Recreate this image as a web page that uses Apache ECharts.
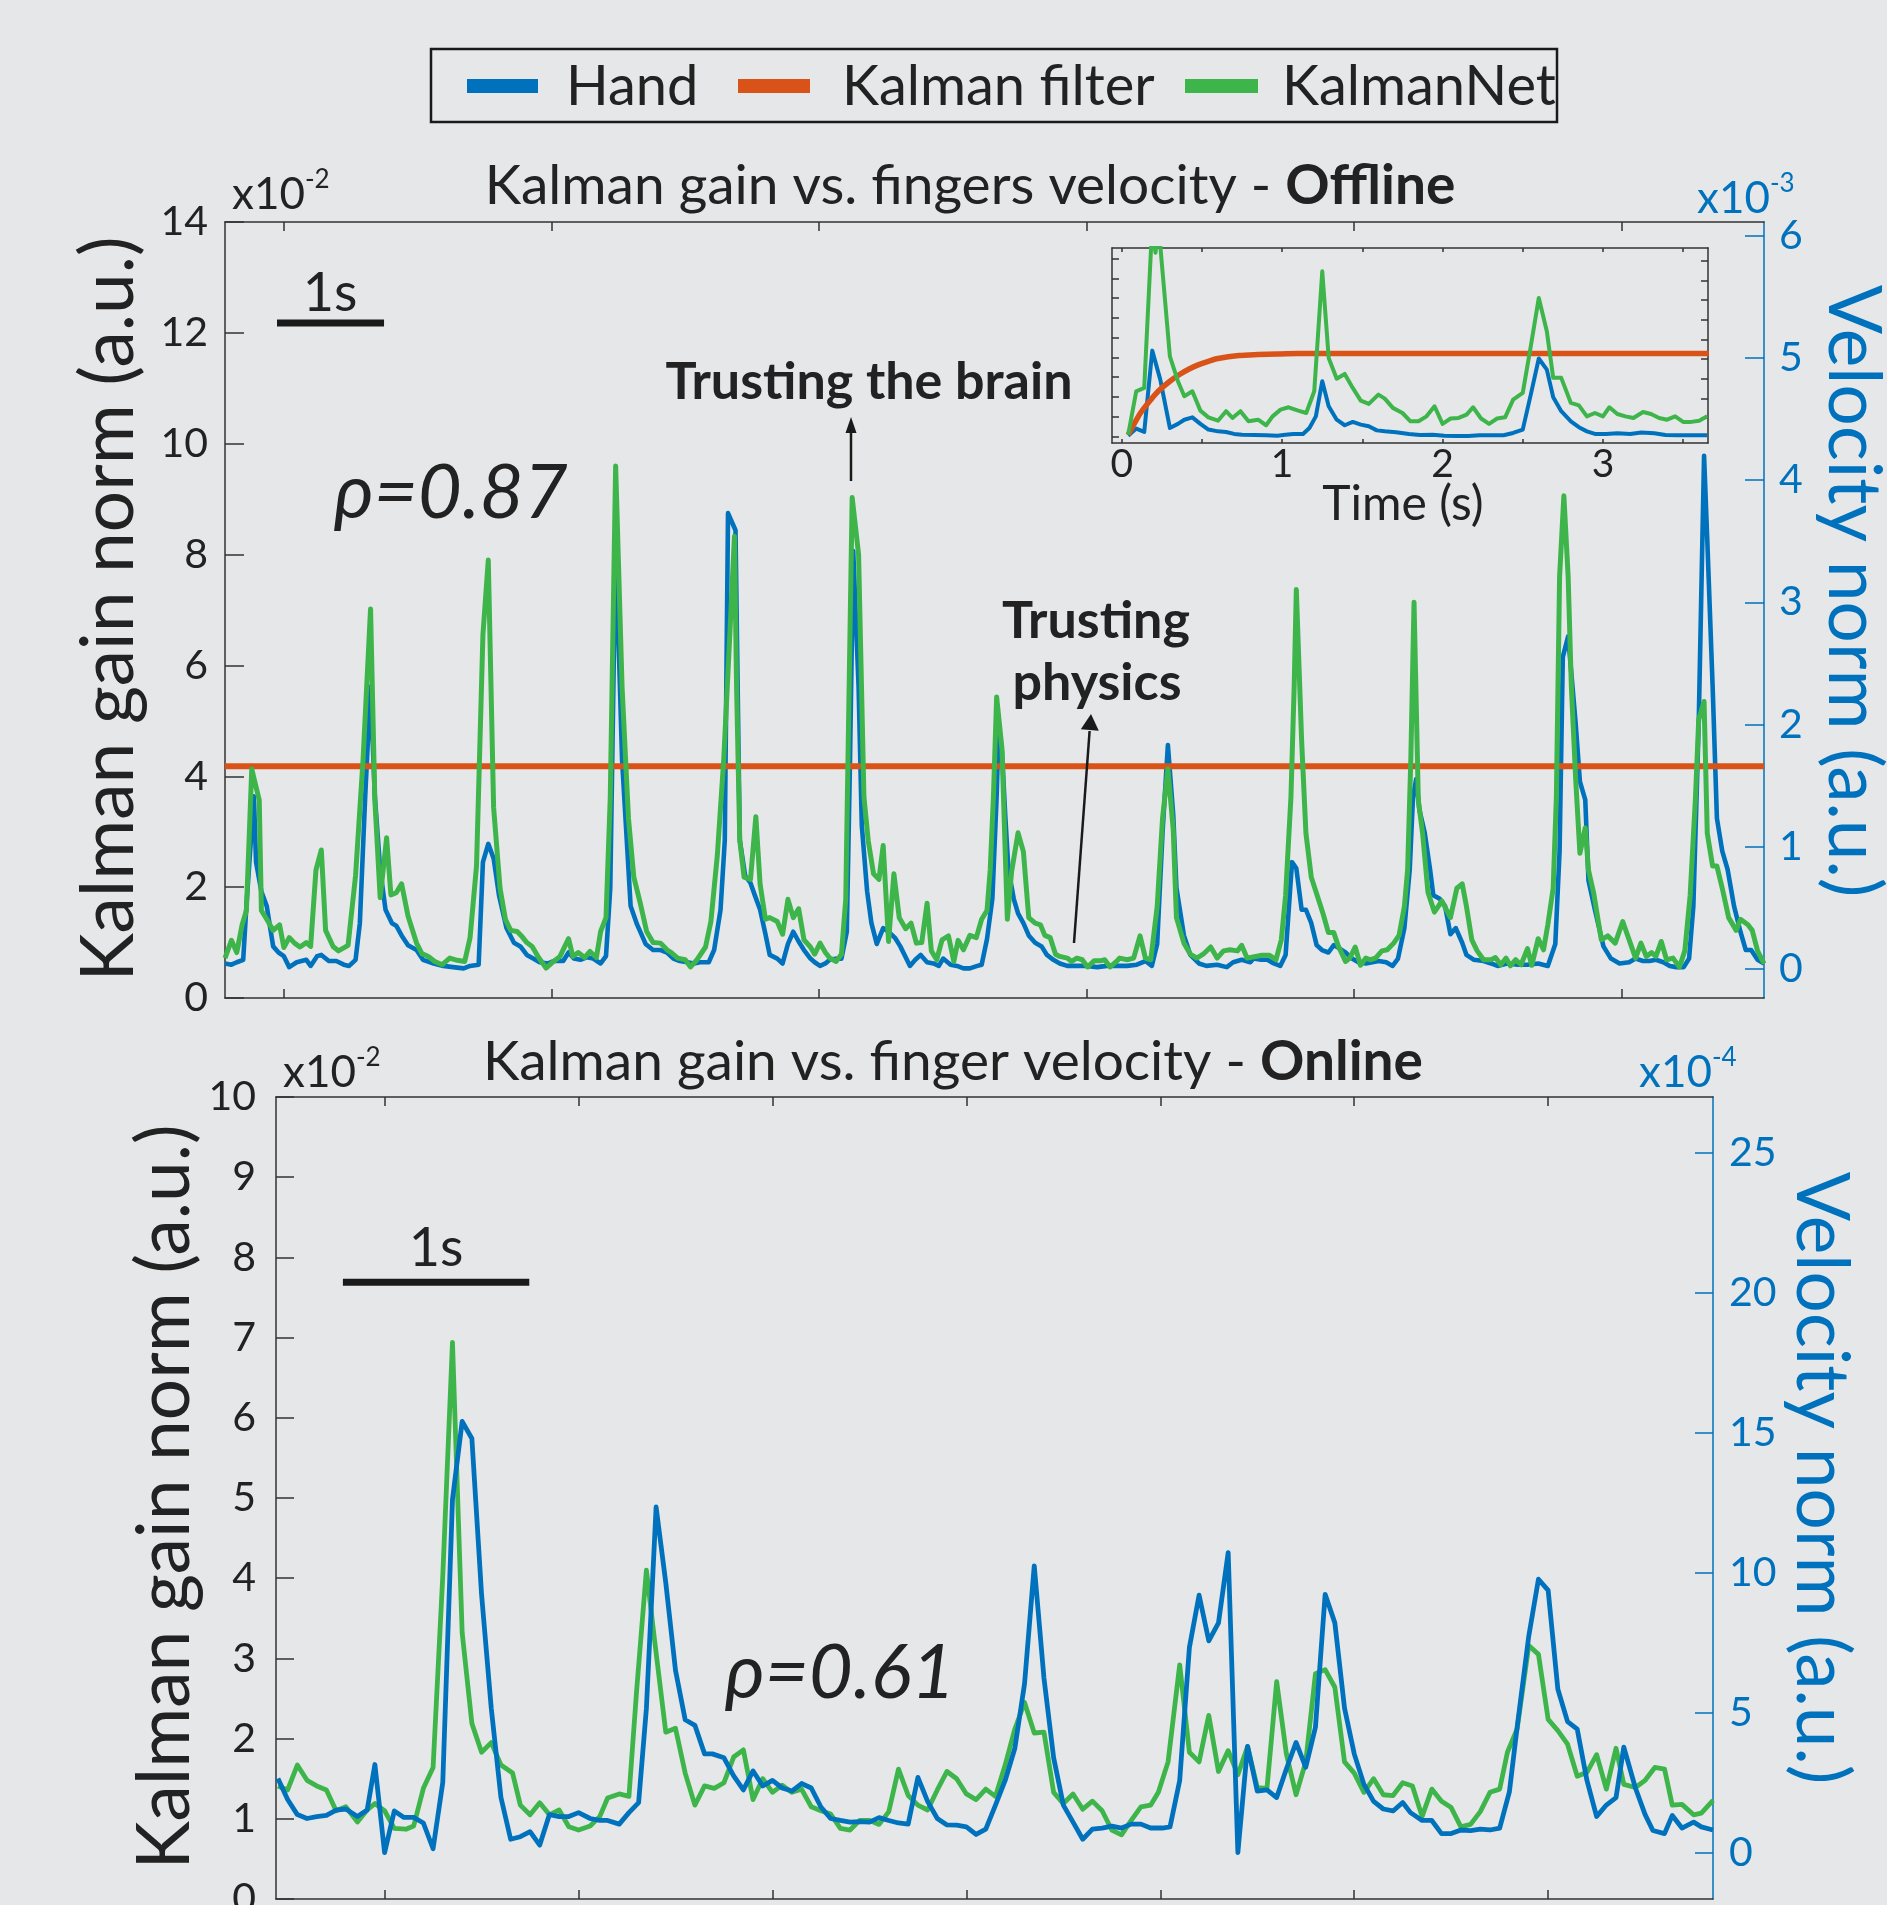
<!DOCTYPE html>
<html>
<head>
<meta charset="utf-8">
<title>Kalman gain vs. finger velocity</title>
<script src="https://cdn.jsdelivr.net/npm/echarts@6/dist/echarts.min.js"></script>
<style>
  html, body { margin: 0; padding: 0; background: #e6e7e8; }
  #chart { width: 1887px; height: 1905px; }
</style>
</head>
<body>
<div id="chart"></div>
<script>
// ---- offline panel (time in s, gain x1e-2, hand velocity x1e-3) ----
const offlineNetT = [0,0.06,0.11,0.16,0.2,0.25,0.32,0.34,0.39,0.45,0.51,0.55,0.6,0.65,0.7,0.76,0.8,0.85,0.9,0.94,1.01,1.06,1.15,1.22,1.29,1.36,1.4,1.45,1.51,1.55,1.6,1.65,1.71,1.79,1.84,1.9,1.96,2.03,2.1,2.17,2.24,2.29,2.35,2.41,2.46,2.51,2.57,2.62,2.67,2.73,2.77,2.82,2.87,2.93,3,3.07,3.13,3.21,3.25,3.3,3.36,3.41,3.47,3.51,3.56,3.6,3.65,3.71,3.77,3.82,3.88,3.94,4,4.07,4.13,4.17,4.23,4.3,4.35,4.41,4.49,4.54,4.6,4.66,4.72,4.76,4.78,4.81,4.85,4.91,4.96,5,5.05,5.09,5.16,5.21,5.26,5.31,5.36,5.41,5.47,5.51,5.56,5.61,5.65,5.71,5.76,5.8,5.86,5.92,5.97,6.01,6.06,6.11,6.15,6.2,6.25,6.3,6.36,6.41,6.46,6.51,6.56,6.6,6.65,6.7,6.76,6.81,6.85,6.9,6.96,7.02,7.07,7.12,7.15,7.18,7.21,7.26,7.31,7.35,7.41,7.46,7.51,7.57,7.62,7.66,7.71,7.76,7.8,7.87,7.91,7.96,8.01,8.06,8.12,8.18,8.22,8.27,8.33,8.36,8.43,8.49,8.55,8.6,8.65,8.71,8.76,8.81,8.86,8.89,8.96,9.02,9.08,9.14,9.21,9.27,9.33,9.39,9.46,9.5,9.55,9.63,9.69,9.76,9.82,9.87,9.91,9.96,9.99,10.01,10.06,10.1,10.15,10.2,10.26,10.31,10.36,10.4,10.47,10.51,10.56,10.61,10.66,10.7,10.75,10.81,10.86,10.92,10.97,11.02,11.05,11.08,11.11,11.15,11.19,11.24,11.3,11.37,11.45,11.51,11.56,11.6,11.65,11.7,11.76,11.83,11.87,11.92,11.97,12.01,12.06,12.11,12.17,12.21,12.27,12.32,12.36,12.41,12.44,12.47,12.51,12.55,12.58,12.62,12.66,12.71,12.74,12.79,12.86,12.92,12.99,13.06,13.12,13.18,13.23,13.28,13.33,13.37,13.42,13.47,13.53,13.59,13.64,13.69,13.74,13.77,13.82,13.85,13.9,13.94,13.99,14.05,14.12,14.16,14.23,14.27,14.32,14.38];
const offlineNetV = [0.72,1.04,0.82,1.32,1.58,4.13,3.57,1.58,1.42,1.22,1.32,0.91,1.09,0.99,0.92,1,0.93,2.31,2.67,1.22,0.93,0.85,0.95,2.21,4.3,7.02,3.57,1.81,2.89,1.86,1.9,2.06,1.48,0.99,0.8,0.75,0.66,0.6,0.72,0.68,0.66,1.09,2.38,6.55,7.9,3.43,1.98,1.42,1.22,1.2,1.12,1,0.93,0.73,0.54,0.66,0.75,1.07,0.75,0.82,0.73,0.84,0.73,1.2,1.45,3.63,9.6,5.62,3.24,2.18,1.71,1.2,1,0.99,0.87,0.82,0.72,0.69,0.56,0.69,0.92,1.38,2.57,4.3,6.68,8.33,5.62,2.84,2.18,2.14,3.27,2.05,1.42,1.45,1.38,1.15,1.78,1.45,1.61,1.05,0.92,0.79,0.99,0.82,0.72,0.66,0.79,1.78,9.03,8,3.63,2.84,2.24,2.14,2.75,1.02,2.24,1.45,1.25,1.35,0.99,1,1.71,0.85,0.69,1.05,1.12,0.66,1.04,0.87,1.13,1.09,1.42,1.58,2.31,3.63,5.43,4.49,1.42,2.28,2.98,2.64,1.45,1.35,1.32,1.13,1.09,0.79,0.75,0.72,0.66,0.72,0.69,0.56,0.67,0.67,0.69,0.56,0.66,0.72,0.69,0.72,1.12,0.72,0.69,1.65,3.24,4.13,3.04,1.45,0.99,0.79,0.72,0.79,0.92,0.72,0.85,0.87,0.85,0.95,0.72,0.75,0.77,0.77,0.69,1.05,1.85,3.63,5.62,7.37,4.63,2.97,2.18,1.88,1.52,1.18,1.18,0.95,0.66,0.72,0.92,0.59,0.72,0.69,0.72,0.85,0.87,0.99,1.13,1.65,2.31,4.3,7.14,3.57,2.97,1.91,1.55,1.75,1.45,1.98,2.06,1.65,1.05,0.85,0.69,0.69,0.73,0.6,0.72,0.58,0.69,0.6,0.89,0.59,1.07,0.87,1.32,1.98,3.63,7.6,9.06,7.6,5.62,3.96,2.61,3.07,2.31,1.88,1.05,1.12,0.99,1.38,1.05,0.72,0.99,0.75,0.82,0.75,1.02,0.69,0.72,0.56,0.85,1.85,3.63,5.02,5.35,2.97,2.38,2.38,1.98,1.45,1.22,1.42,1.32,1.22,0.85,0.62];
const offlineHandT = [0,0.06,0.11,0.17,0.2,0.27,0.29,0.34,0.39,0.45,0.5,0.55,0.6,0.67,0.76,0.8,0.86,0.9,0.97,1.04,1.11,1.16,1.22,1.26,1.31,1.36,1.4,1.45,1.5,1.56,1.6,1.65,1.71,1.79,1.85,1.95,2.04,2.13,2.23,2.29,2.37,2.41,2.46,2.51,2.56,2.63,2.7,2.76,2.82,2.88,2.94,3.02,3.07,3.16,3.21,3.26,3.32,3.38,3.44,3.51,3.56,3.6,3.65,3.71,3.79,3.85,3.93,4,4.07,4.13,4.19,4.25,4.32,4.38,4.44,4.52,4.57,4.63,4.67,4.7,4.77,4.79,4.81,4.86,4.91,4.95,5,5.05,5.09,5.16,5.21,5.26,5.31,5.36,5.41,5.47,5.51,5.56,5.61,5.65,5.72,5.76,5.81,5.84,5.87,5.92,5.95,6,6.04,6.09,6.15,6.2,6.26,6.31,6.36,6.4,6.45,6.5,6.56,6.62,6.67,6.71,6.78,6.84,6.9,6.96,7.03,7.07,7.12,7.17,7.21,7.23,7.26,7.29,7.32,7.37,7.41,7.46,7.51,7.57,7.63,7.68,7.74,7.8,7.87,7.96,8.05,8.15,8.24,8.33,8.43,8.52,8.6,8.66,8.71,8.76,8.81,8.86,8.89,8.96,9.02,9.1,9.17,9.27,9.36,9.42,9.5,9.58,9.61,9.68,9.74,9.8,9.86,9.91,9.97,10.01,10.06,10.1,10.15,10.2,10.25,10.31,10.36,10.4,10.47,10.53,10.59,10.66,10.72,10.78,10.85,10.91,10.96,11.02,11.07,11.1,11.13,11.16,11.21,11.26,11.29,11.35,11.4,11.45,11.5,11.56,11.6,11.67,11.76,11.83,11.89,11.98,12.08,12.17,12.27,12.36,12.43,12.47,12.5,12.55,12.62,12.66,12.71,12.74,12.8,12.88,12.95,13.03,13.12,13.18,13.25,13.31,13.37,13.44,13.5,13.56,13.63,13.68,13.72,13.77,13.82,13.85,13.9,13.94,13.99,14.04,14.1,14.16,14.21,14.26,14.32,14.38];
const offlineHandV = [0.04,0.03,0.05,0.07,0.51,1.41,0.87,0.63,0.51,0.18,0.13,0.1,0.01,0.05,0.07,0.02,0.1,0.11,0.06,0.06,0.03,0.02,0.07,0.37,1.41,2.31,1.41,0.81,0.48,0.37,0.35,0.27,0.19,0.15,0.07,0.04,0.02,0.01,0,0.02,0.03,0.87,1.02,0.9,0.6,0.33,0.21,0.18,0.11,0.08,0.05,0.04,0.06,0.06,0.13,0.08,0.07,0.09,0.08,0.04,0.1,0.66,3.51,1.71,0.51,0.36,0.2,0.15,0.15,0.13,0.08,0.06,0.05,0.04,0.05,0.05,0.15,0.48,1.05,3.73,3.59,2.31,1.05,0.76,0.7,0.6,0.48,0.28,0.11,0.08,0.04,0.2,0.3,0.22,0.15,0.08,0.05,0.02,0.04,0.07,0.08,0.08,0.3,1.71,3.42,2.31,1.17,0.63,0.37,0.2,0.33,0.3,0.25,0.18,0.09,0.02,0.07,0.11,0.05,0.04,0.02,0.08,0.03,0.02,0,0,0.02,0.03,0.24,0.57,1.41,2.01,1.77,1.26,0.81,0.57,0.45,0.37,0.27,0.21,0.18,0.11,0.07,0.04,0.02,0.02,0.02,0.01,0.02,0.02,0.02,0.03,0.06,0.02,0.2,1.11,1.83,1.26,0.66,0.27,0.11,0.04,0.02,0.03,0.01,0.05,0.07,0.05,0.08,0.07,0.07,0.04,0.02,0.11,0.87,0.82,0.48,0.48,0.37,0.19,0.15,0.13,0.19,0.17,0.13,0.08,0.05,0.04,0.05,0.06,0.05,0.02,0.08,0.33,0.81,1.4,1.55,1.3,1.11,0.81,0.6,0.57,0.51,0.28,0.33,0.21,0.11,0.07,0.06,0.04,0.02,0.04,0.03,0.03,0.04,0.02,0.2,0.96,2.55,2.72,2.01,1.53,1.38,0.72,0.48,0.18,0.08,0.04,0.05,0.08,0.06,0.06,0.07,0.05,0.02,0.01,0.01,0.08,0.51,2.01,4.2,3.51,2.31,1.23,0.96,0.81,0.51,0.3,0.15,0.15,0.07,0.04];
const offlineKfT = [0, 14.38];
const offlineKfV = [4.18, 4.18];

// ---- online panel (time in s, gain x1e-2, hand velocity x1e-4) ----
const onlineNetT = [0.01,0.06,0.11,0.16,0.21,0.26,0.31,0.36,0.42,0.47,0.51,0.56,0.61,0.67,0.71,0.76,0.81,0.86,0.91,0.96,1.01,1.06,1.11,1.16,1.22,1.26,1.31,1.36,1.41,1.46,1.51,1.56,1.62,1.67,1.71,1.77,1.82,1.86,1.91,1.95,2.01,2.06,2.11,2.16,2.21,2.26,2.31,2.36,2.41,2.46,2.51,2.56,2.61,2.66,2.71,2.76,2.81,2.86,2.91,2.96,3.01,3.06,3.11,3.16,3.21,3.26,3.31,3.36,3.41,3.46,3.51,3.56,3.61,3.66,3.71,3.76,3.81,3.86,3.91,3.96,4.01,4.06,4.11,4.16,4.21,4.26,4.31,4.36,4.41,4.46,4.51,4.55,4.6,4.66,4.71,4.76,4.81,4.86,4.91,4.96,5.01,5.06,5.11,5.16,5.21,5.26,5.31,5.36,5.41,5.46,5.51,5.56,5.61,5.66,5.71,5.76,5.81,5.86,5.91,5.96,6.01,6.06,6.11,6.16,6.21,6.26,6.31,6.35,6.4,6.46,6.51,6.56,6.61,6.66,6.71,6.76,6.81,6.86,6.91,6.95,7.01,7.06,7.11,7.16,7.2,7.25,7.31,7.35,7.41];
const onlineNetV = [1.41,1.36,1.67,1.48,1.41,1.36,1.1,1.15,0.96,1.11,1.19,1.1,0.88,0.87,0.91,1.38,1.64,4.03,6.94,3.32,2.19,1.83,1.95,1.67,1.57,1.17,1.05,1.2,1.05,1.11,0.9,0.86,0.91,1.03,1.26,1.31,1.28,2.61,4.1,3.27,2.08,2.13,1.57,1.17,1.41,1.38,1.45,1.77,1.86,1.24,1.5,1.33,1.42,1.33,1.37,1.15,1.1,1.06,0.88,0.86,0.98,0.98,0.93,1.09,1.62,1.29,1.17,1.11,1.36,1.59,1.5,1.31,1.24,1.37,1.28,1.67,2.12,2.45,2.07,2.08,1.33,1.19,1.31,1.12,1.22,1.1,0.86,0.8,0.98,1.15,1.17,1.33,1.71,2.92,1.83,1.71,2.29,1.59,1.85,1.55,1.9,1.39,1.38,2.71,1.81,1.3,1.71,2.81,2.86,2.64,1.71,1.57,1.33,1.5,1.3,1.29,1.45,1.41,1.03,1.37,1.22,1.14,0.9,0.93,1.09,1.33,1.37,1.83,2.12,3.16,3.05,2.24,2.1,1.93,1.53,1.58,1.8,1.37,1.88,1.43,1.39,1.48,1.64,1.62,1.17,1.18,1.05,1.07,1.23];
const onlineHandT = [0.01,0.06,0.11,0.16,0.21,0.26,0.31,0.36,0.42,0.47,0.51,0.56,0.61,0.66,0.71,0.76,0.81,0.86,0.91,0.96,1.01,1.06,1.11,1.16,1.21,1.26,1.31,1.36,1.41,1.46,1.51,1.56,1.62,1.67,1.71,1.77,1.82,1.87,1.91,1.96,2.01,2.06,2.11,2.16,2.21,2.25,2.31,2.36,2.41,2.46,2.51,2.56,2.61,2.66,2.71,2.76,2.81,2.86,2.91,2.96,3.01,3.06,3.11,3.16,3.21,3.26,3.31,3.36,3.41,3.46,3.51,3.56,3.61,3.66,3.71,3.76,3.81,3.86,3.91,3.96,4.01,4.06,4.11,4.16,4.21,4.26,4.31,4.36,4.41,4.46,4.51,4.57,4.61,4.66,4.71,4.76,4.81,4.86,4.91,4.96,5.01,5.06,5.11,5.16,5.21,5.26,5.31,5.36,5.41,5.46,5.51,5.56,5.61,5.66,5.71,5.76,5.81,5.85,5.91,5.96,6.01,6.06,6.11,6.16,6.21,6.26,6.31,6.36,6.4,6.46,6.51,6.56,6.61,6.66,6.71,6.76,6.81,6.86,6.91,6.95,7.01,7.06,7.1,7.16,7.2,7.25,7.31,7.35,7.41];
const onlineHandV = [2.65,1.9,1.36,1.22,1.29,1.33,1.52,1.56,1.29,1.52,3.15,0,1.49,1.26,1.26,1.06,0.14,2.51,12.62,15.41,14.8,9.23,5.16,1.97,0.48,0.57,0.75,0.27,1.36,1.29,1.29,1.43,1.22,1.15,1.15,1.02,1.43,1.79,5.16,12.35,9.64,6.52,4.75,4.55,3.53,3.53,3.39,2.74,2.24,2.92,2.38,2.58,2.31,2.2,2.47,2.31,1.63,1.22,1.15,1.09,1.11,1.09,1.25,1.15,1.06,1.02,2.69,1.83,1.22,0.99,0.98,0.92,0.65,0.84,1.7,2.58,3.73,6.04,10.25,6.24,3.39,1.7,1.09,0.48,0.84,0.88,0.95,0.88,1.02,1.02,0.88,0.88,0.92,2.58,7.33,9.2,7.57,8.21,10.72,0,3.8,2.2,2.24,1.97,2.99,3.94,3.05,4.48,9.23,8.21,5.16,3.53,2.44,1.83,1.56,1.49,1.79,1.43,1.15,1.15,0.68,0.68,0.81,0.79,0.84,0.81,0.88,2.17,4.48,7.74,9.77,9.37,5.84,4.68,4.41,2.58,1.29,1.7,1.97,3.77,2.31,1.36,0.79,0.68,1.33,0.88,1.09,0.92,0.81];

// ---- inset (time in s, gain x1e-2) ----
const insetNetT = [0.04,0.09,0.14,0.19,0.21,0.23,0.3,0.35,0.39,0.44,0.49,0.54,0.6,0.65,0.69,0.74,0.79,0.85,0.9,0.94,0.99,1.04,1.1,1.15,1.2,1.25,1.29,1.34,1.39,1.44,1.49,1.54,1.6,1.64,1.69,1.75,1.8,1.85,1.9,1.95,2,2.05,2.1,2.15,2.19,2.24,2.29,2.34,2.39,2.44,2.5,2.55,2.6,2.65,2.69,2.74,2.8,2.85,2.9,2.95,3,3.04,3.09,3.14,3.19,3.25,3.3,3.35,3.4,3.45,3.5,3.55,3.6,3.65];
const insetNetV = [0.08,2.28,2.45,10.8,9.3,10.6,4.05,2.79,2.03,2.28,1.3,0.96,0.79,1.27,0.93,1.27,0.76,0.84,0.56,1.01,1.35,1.47,1.3,1.18,2.28,8.36,3.97,2.92,3.16,2.45,1.81,1.64,2.11,1.91,1.44,1.18,0.76,0.76,1.01,1.52,0.63,0.9,0.93,1.1,1.47,0.9,0.63,0.9,0.96,1.86,2.2,4.56,7.01,5.32,2.96,2.96,1.69,1.57,1.01,1.18,1.01,1.47,1.13,1.01,0.93,1.23,1.13,0.93,0.84,1.01,0.73,0.73,0.79,1.01];
const insetHandT = [0.04,0.09,0.14,0.19,0.24,0.3,0.35,0.39,0.44,0.49,0.54,0.6,0.65,0.7,0.75,0.83,0.9,0.97,1.02,1.07,1.13,1.17,1.21,1.25,1.29,1.34,1.39,1.44,1.49,1.54,1.59,1.64,1.71,1.79,1.86,1.94,2.01,2.08,2.16,2.23,2.31,2.38,2.44,2.5,2.55,2.6,2.65,2.69,2.74,2.8,2.85,2.9,2.95,3.02,3.09,3.17,3.24,3.32,3.39,3.46,3.54,3.65];
const insetHandV = [0.03,0.39,0.22,4.34,2.87,0.42,0.63,0.84,0.96,0.63,0.34,0.25,0.22,0.12,0.08,0.07,0.05,0.03,0.08,0.12,0.12,0.42,1.01,2.79,1.52,0.84,0.56,0.73,0.59,0.51,0.3,0.25,0.2,0.12,0.07,0.08,0.03,0.02,0.02,0.05,0.05,0.05,0.17,0.34,2.11,3.94,3.38,1.98,1.27,0.76,0.46,0.25,0.12,0.12,0.15,0.12,0.19,0.15,0.07,0.05,0.05,0.05];
const insetKfT = [0.04,0.11,0.14,0.19,0.23,0.3,0.36,0.42,0.48,0.54,0.6,0.73,0.85,0.97,1.1,3.66];
const insetKfV = [0.08,1.1,1.44,1.94,2.31,2.79,3.13,3.41,3.63,3.8,3.94,4.09,4.14,4.17,4.19,4.19];

// axis ticks / labels
const offlineTimeTicks = [0.55, 3.05, 5.55, 8.05, 10.55, 13.05];
const offlineVelLabels = [0, 1, 2, 3, 4, 5, 6];
const onlineTimeTicks = [0.56, 1.56, 2.56, 3.56, 4.56, 5.56, 6.56];
const onlineVelLabels = [0, 5, 10, 15, 20, 25];
const insetTimeTicks = [0, 0.5, 1, 1.5, 2, 2.5, 3, 3.5];
const insetTimeLabels = [0, 1, 2, 3];
const insetLeftTicks = [0, 1, 2, 3, 4, 5, 6, 7, 8, 9];
const insetRightTicks = [1, 2, 3, 4, 5, 6, 7, 8, 9];

const BLUE = '#0072BD', ORANGE = '#D95319', GREEN = '#3DB54A';
const DARK = '#333333', TXT = '#222222', FONT = 'Lato';

const zip = (t, v) => t.map((x, i) => [x, v[i]]);

function xAx(grid, pos, min, max, ticks, tickLen, labels) {
    return {
        type: 'value', gridIndex: grid, position: pos, min: min, max: max,
        splitLine: {show: false},
        axisLine: {show: true, onZero: false, lineStyle: {color: DARK, width: 1.5}},
        axisTick: {show: true, inside: true, length: tickLen, customValues: ticks,
            lineStyle: {color: DARK, width: 1.5}},
        axisLabel: labels ? {show: true, customValues: labels, margin: 2, color: TXT,
            fontFamily: FONT, fontSize: 39} : {show: false}
    };
}
function yAx(grid, pos, min, max, color, tickLen, opts) {
    let ax = {
        type: 'value', gridIndex: grid, position: pos, min: min, max: max,
        splitLine: {show: false},
        axisLine: {show: true, onZero: false, lineStyle: {color: color, width: 1.5}},
        axisTick: {show: true, inside: true, length: tickLen, lineStyle: {color: color, width: 1.5}},
        axisLabel: {show: false}
    };
    if (opts.interval) ax.interval = opts.interval;
    if (opts.ticks) ax.axisTick.customValues = opts.ticks;
    if (opts.labels !== undefined) {
        ax.axisLabel = {show: true, color: color === DARK ? TXT : color, fontFamily: FONT,
            fontSize: 41, margin: opts.margin, showMinLabel: true, showMaxLabel: true};
        if (opts.labels) ax.axisLabel.customValues = opts.labels;
    }
    return ax;
}
function lineSeries(name, data, x, y, color, width, extra) {
    return Object.assign({
        name: name, type: 'line', data: data, xAxisIndex: x, yAxisIndex: y,
        showSymbol: false, symbol: 'none', clip: true, silent: true,
        lineStyle: {color: color, width: width, join: 'round'}, itemStyle: {color: color}
    }, extra || {});
}
function txt(text, x, y, size, opts) {
    opts = opts || {};
    return {
        type: 'text', x: x, y: y, rotation: opts.rot || 0, z: 100,
        style: {
            text: text, fill: opts.color || TXT, fontFamily: opts.family || FONT,
            fontSize: size, fontWeight: opts.weight || 'normal', fontStyle: opts.style || 'normal',
            align: opts.align || 'center', verticalAlign: 'middle',
            textAlign: opts.align || 'center', textVerticalAlign: 'middle', rich: opts.rich
        }
    };
}
function expo(base, sup, x, y, color) {
    return txt('{a|' + base + '}{b|' + sup + '}', x, y, 44, {
        align: 'left', color: color,
        rich: {
            a: {fontFamily: FONT, fontSize: 44, fill: color, lineHeight: 50, verticalAlign: 'bottom'},
            b: {fontFamily: FONT, fontSize: 26, fill: color, lineHeight: 50, verticalAlign: 'top'}
        }
    });
}
function title(normal, bold, x, y) {
    return txt('{n|' + normal + '}{b|' + bold + '}', x, y, 55, {
        rich: {
            n: {fontFamily: FONT, fontSize: 55, fill: TXT},
            b: {fontFamily: FONT, fontSize: 55, fontWeight: 'bold', fill: TXT}
        }
    });
}

const chart = echarts.init(document.getElementById('chart'), null, {renderer: 'canvas'});

chart.setOption({
    backgroundColor: '#e6e7e8',
    animation: false,
    grid: [
        {left: 225, top: 222, width: 1539, height: 776, containLabel: false, outerBoundsMode: 'none'},
        {left: 276, top: 1097, width: 1437, height: 802, containLabel: false, outerBoundsMode: 'none'},
        {left: 1112, top: 248, width: 596, height: 195, containLabel: false, outerBoundsMode: 'none'}
    ],
    xAxis: [
        xAx(0, 'bottom', 0, 14.38, offlineTimeTicks, 9),
        xAx(0, 'top', 0, 14.38, offlineTimeTicks, 9),
        xAx(1, 'bottom', 0, 7.41, onlineTimeTicks, 9),
        xAx(1, 'top', 0, 7.41, onlineTimeTicks, 9),
        xAx(2, 'bottom', -0.061, 3.655, insetTimeTicks, 4, insetTimeLabels),
        xAx(2, 'top', -0.061, 3.655, insetTimeTicks, 4)
    ],
    yAxis: [
        yAx(0, 'left', 0, 14, DARK, 19, {interval: 2, labels: null, margin: 17}),
        yAx(0, 'right', -0.243, 6.116, BLUE, 19, {ticks: offlineVelLabels, labels: offlineVelLabels, margin: 15}),
        yAx(1, 'left', 0, 10, DARK, 18, {interval: 1, labels: null, margin: 20}),
        yAx(1, 'right', -1.656, 27.0, BLUE, 18, {ticks: onlineVelLabels, labels: onlineVelLabels, margin: 16}),
        yAx(2, 'left', -0.34, 9.54, DARK, 7, {ticks: insetLeftTicks}),
        yAx(2, 'right', -0.27, 9.66, DARK, 7, {ticks: insetRightTicks})
    ],
    series: [
        lineSeries('Hand', zip(offlineHandT, offlineHandV), 0, 1, BLUE, 4.6),
        lineSeries('Kalman filter', zip(offlineKfT, offlineKfV), 0, 0, ORANGE, 6),
        lineSeries('KalmanNet', zip(offlineNetT, offlineNetV), 0, 0, GREEN, 5),
        lineSeries('scale 1s offline', [[0.486, 12.18], [1.486, 12.18]], 0, 0, '#1a1a1a', 7, {lineStyle: {color: '#1a1a1a', width: 7, cap: 'butt'}}),
        lineSeries('KalmanNet', zip(onlineNetT, onlineNetV), 2, 2, GREEN, 4.8),
        lineSeries('Hand', zip(onlineHandT, onlineHandV), 2, 3, BLUE, 4.8),
        lineSeries('scale 1s online', [[0.345, 7.69], [1.306, 7.69]], 2, 2, '#1a1a1a', 7, {lineStyle: {color: '#1a1a1a', width: 7, cap: 'butt'}}),
        lineSeries('Hand', zip(insetHandT, insetHandV), 4, 4, BLUE, 4),
        lineSeries('Kalman filter', zip(insetKfT, insetKfV), 4, 4, ORANGE, 5.5, {smooth: 0.3}),
        lineSeries('KalmanNet', zip(insetNetT, insetNetV), 4, 4, GREEN, 4)
    ],
    graphic: [
        // legend
        {type: 'rect', z: 100, shape: {x: 431, y: 49, width: 1126, height: 73},
            style: {fill: 'none', stroke: '#1a1a1a', lineWidth: 2.5}},
        {type: 'rect', z: 100, shape: {x: 467, y: 79, width: 71, height: 14}, style: {fill: BLUE}},
        txt('Hand', 566, 87, 56, {align: 'left'}),
        {type: 'rect', z: 100, shape: {x: 738, y: 79, width: 72, height: 14}, style: {fill: ORANGE}},
        txt('Kalman filter', 842, 87, 56, {align: 'left'}),
        {type: 'rect', z: 100, shape: {x: 1185, y: 79, width: 73, height: 14}, style: {fill: GREEN}},
        txt('KalmanNet', 1282, 87, 56, {align: 'left'}),
        // titles
        title('Kalman gain vs. fingers velocity - ', 'Offline', 970, 186),
        title('Kalman gain vs. finger velocity - ', 'Online', 953, 1062),
        // exponent notes
        expo('x10', '-2', 232, 192, TXT),
        expo('x10', '-3', 1697, 196, BLUE),
        expo('x10', '-2', 283, 1070, TXT),
        expo('x10', '-4', 1639, 1070, BLUE),
        // axis names
        txt('Kalman gain norm (a.u.)', 109, 609, 73, {rot: Math.PI / 2}),
        txt('Velocity norm (a.u.)', 1853, 591, 73, {rot: -Math.PI / 2, color: BLUE}),
        txt('Kalman gain norm (a.u.)', 165, 1497, 73, {rot: Math.PI / 2}),
        txt('Velocity norm (a.u.)', 1821, 1478, 73, {rot: -Math.PI / 2, color: BLUE}),
        txt('Time (s)', 1403, 505, 48),
        // scale bar labels
        txt('1s', 330, 294, 54),
        txt('1s', 436, 1249, 54),
        // correlation notes
        txt('\u03C1=0.87', 334, 493, 76, {align: 'left', style: 'italic'}),
        txt('\u03C1=0.61', 725, 1673, 76, {align: 'left', style: 'italic'}),
        // annotations
        txt('Trusting the brain', 869, 382, 52, {weight: 'bold'}),
        txt('Trusting', 1096, 621, 52, {weight: 'bold'}),
        txt('physics', 1097, 683, 52, {weight: 'bold'}),
        {type: 'line', z: 100, shape: {x1: 851, y1: 481, x2: 851, y2: 430}, style: {stroke: '#1a1a1a', lineWidth: 2.5}},
        {type: 'polygon', z: 100, shape: {points: [[851, 417], [845.5, 433], [856.5, 433]]}, style: {fill: '#1a1a1a'}},
        {type: 'line', z: 100, shape: {x1: 1074, y1: 943, x2: 1089.6, y2: 731}, style: {stroke: '#1a1a1a', lineWidth: 2.5}},
        {type: 'polygon', z: 100, shape: {points: [[1091, 714], [1098.8, 730.7], [1080.8, 729.3]]}, style: {fill: '#1a1a1a'}}
    ]
});
</script>
</body>
</html>
